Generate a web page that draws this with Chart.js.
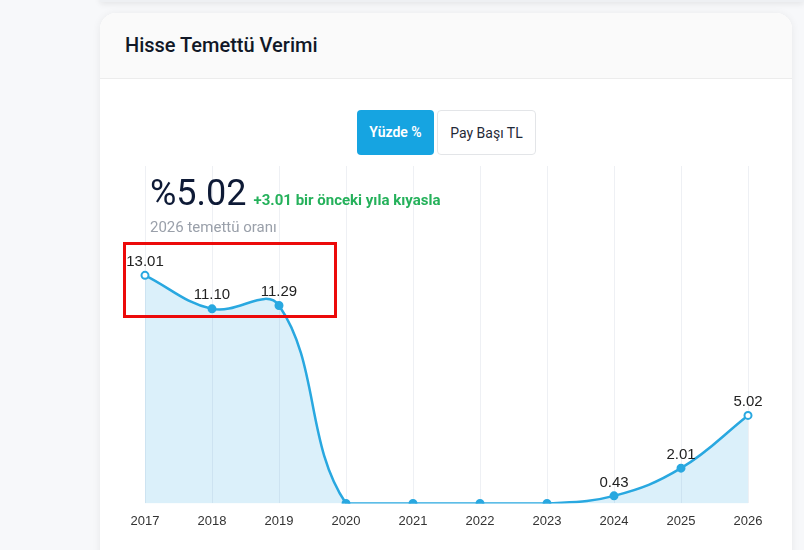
<!DOCTYPE html>
<html lang="tr">
<head>
<meta charset="utf-8">
<title>Hisse Temettü Verimi</title>
<script src="https://cdn.jsdelivr.net/npm/chart.js@4.4.0/dist/chart.umd.min.js"></script>
<style>
    body {
        margin: 0;
        width: 804px;
        height: 550px;
        overflow: hidden;
        position: relative;
        background: #f7f8fa;
        font-family: Roboto, "Noto Sans", sans-serif;
    }
    .ust-kart {
        position: absolute;
        left: 100px;
        right: 0;
        top: -40px;
        height: 42px;
        background: #eef0f3;
        box-shadow: 0 2px 6px rgba(0, 0, 0, 0.08);
    }
    .kart {
        position: absolute;
        left: 100px;
        top: 13px;
        width: 692px;
        height: 600px;
        background: #fff;
        border-radius: 16px;
        box-shadow: 0 1px 8px rgba(0, 0, 0, 0.07);
        overflow: hidden;
    }
    .kart-baslik {
        height: 65px;
        line-height: 65px;
        padding-left: 25px;
        background: #fafafa;
        border-bottom: 1px solid #ececec;
        font-size: 20px;
        font-weight: 500;
        color: #111827;
    }
    .butonlar {
        position: absolute;
        left: 257px;
        top: 97px;
        display: flex;
        gap: 3px;
    }
    .butonlar div {
        height: 45px;
        line-height: 45px;
        border-radius: 4px;
        font-size: 14px;
        text-align: center;
        box-sizing: border-box;
    }
    .aktif {
        width: 77px;
        background: #16a4e1;
        color: #fff;
        font-weight: 600;
    }
    .pasif {
        width: 99px;
        background: #fff;
        color: #1f2937;
        border: 1px solid #e3e5e8;
    }
    .ozet {
        position: absolute;
        left: 150px;
        top: 172px;
        z-index: 2;
    }
    .ozet .satir {
        display: flex;
        align-items: baseline;
        gap: 7px;
    }
    .buyuk {
        font-size: 36px;
        color: #0e1a36;
        line-height: 42px;
    }
    .degisim {
        font-size: 15px;
        font-weight: 700;
        color: #25b15b;
    }
    .alt-yazi {
        font-size: 15px;
        color: #9aa0aa;
        margin-top: 4px;
    }
    .grafik-kutu {
        position: absolute;
        left: 100px;
        top: 160px;
        width: 692px;
        height: 391px;
        z-index: 1;
    }
    .isaret {
        position: absolute;
        left: 123px;
        top: 242px;
        width: 208px;
        height: 70px;
        border: 3px solid #ec0a0a;
        z-index: 3;
    }
</style>
</head>
<body>
<div class="ust-kart"></div>
<div class="kart">
    <div class="kart-baslik">Hisse Temettü Verimi</div>
    <div class="butonlar">
        <div class="aktif">Yüzde %</div>
        <div class="pasif">Pay Başı TL</div>
    </div>
</div>
<div class="ozet">
    <div class="satir">
        <span class="buyuk">%5.02</span>
        <span class="degisim">+3.01 bir önceki yıla kıyasla</span>
    </div>
    <div class="alt-yazi">2026 temettü oranı</div>
</div>
<div class="grafik-kutu"><canvas id="verimGrafik"></canvas></div>
<div class="isaret"></div>

<script>
const yillar = ['2017', '2018', '2019', '2020', '2021', '2022', '2023', '2024', '2025', '2026'];
const verimler = [13.01, 11.10, 11.29, 0, 0, 0, 0, 0.43, 2.01, 5.02];
const yEkseniUst = 19.25;

const anaRenk = '#29a8e0';

// nokta ustu deger yazilari (datalabels eklentisi yok)
const degerEtiketleri = {
    id: 'degerEtiketleri',
    afterDatasetsDraw: function (chart) {
        const ctx = chart.ctx;
        const meta = chart.getDatasetMeta(0);
        ctx.save();
        ctx.font = '15px "Liberation Sans", Arial, sans-serif';
        ctx.fillStyle = '#222';
        ctx.textAlign = 'center';
        ctx.textBaseline = 'bottom';
        meta.data.forEach((nokta, i) => {
            if (verimler[i] === 0) return;
            ctx.fillText(verimler[i].toFixed(2), nokta.x, nokta.y - 6);
        });
        ctx.restore();
    }
};

const noktaZemin = verimler.map((v, i) => (i === 0 || i === verimler.length - 1) ? '#fff' : anaRenk);

new Chart(document.getElementById('verimGrafik'), {
    type: 'line',
    data: {
        labels: yillar,
        datasets: [{
            label: 'Temettü Verimi',
            data: verimler,
            borderColor: anaRenk,
            backgroundColor: 'rgba(41, 168, 224, 0.17)',
            borderWidth: 2.5,
            fill: 'origin',
            tension: 0.4,
            pointRadius: 3.5,
            pointBorderWidth: 2,
            pointBackgroundColor: noktaZemin,
            pointBorderColor: anaRenk
        }]
    },
    options: {
        responsive: true,
        maintainAspectRatio: false,
        animation: false,
        layout: {
            padding: { left: 45, right: 44, top: 0, bottom: 12 }
        },
        plugins: {
            legend: { display: false },
            tooltip: { enabled: false }
        },
        scales: {
            x: {
                grid: { color: '#eef0f4', drawTicks: false },
                border: { display: false },
                ticks: {
                    padding: 10,
                    color: '#333',
                    font: { size: 13, family: '"Liberation Sans", Arial, sans-serif' }
                }
            },
            y: {
                display: false,
                min: 0,
                max: yEkseniUst
            }
        }
    },
    plugins: [degerEtiketleri]
});
</script>
</body>
</html>
